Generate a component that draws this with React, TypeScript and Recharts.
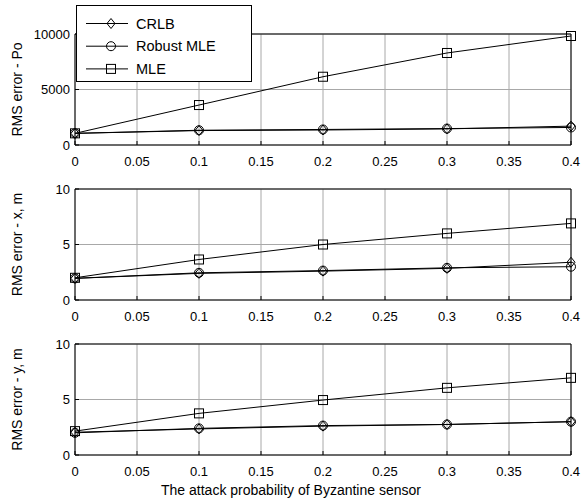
import React from 'react';
import { LineChart, Line, XAxis, YAxis, CartesianGrid, Legend, Label } from 'recharts';

const attackProb = [0, 0.1, 0.2, 0.3, 0.4];
const xTicks = [0, 0.05, 0.1, 0.15, 0.2, 0.25, 0.3, 0.35, 0.4];

const crlbPo = [1050, 1300, 1350, 1450, 1700];
const robustPo = [1050, 1330, 1400, 1480, 1580];
const mlePo = [1050, 3600, 6150, 8290, 9820];

const crlbX = [1.95, 2.4, 2.6, 2.85, 3.4];
const robustX = [1.95, 2.45, 2.65, 2.9, 3.0];
const mleX = [2.0, 3.65, 5.0, 6.0, 6.9];

const crlbY = [2.05, 2.35, 2.6, 2.75, 3.0];
const robustY = [2.0, 2.4, 2.65, 2.75, 3.0];
const mleY = [2.15, 3.75, 4.95, 6.05, 6.95];

const poTicks = [0, 5000, 10000];
const posTicks = [0, 5, 10];

const seriesNames = ['CRLB', 'Robust MLE', 'MLE'];

const panels = [
  { label: 'RMS error - Po', ticks: poTicks, crlb: crlbPo, robust: robustPo, mle: mlePo },
  { label: 'RMS error - x, m', ticks: posTicks, crlb: crlbX, robust: robustX, mle: mleX },
  { label: 'RMS error - y, m', ticks: posTicks, crlb: crlbY, robust: robustY, mle: mleY },
];

const FONT = '"Liberation Sans", Arial, Helvetica, sans-serif';

function Marker({ kind, cx, cy }: { kind: string; cx: number; cy: number }) {
  if (kind === 'CRLB') {
    return (
      <path
        d={`M${cx},${cy - 5} L${cx + 4},${cy} L${cx},${cy + 5} L${cx - 4},${cy} Z`}
        fill="none"
        stroke="#000"
        strokeWidth={1}
      />
    );
  }
  if (kind === 'Robust MLE') {
    return <circle cx={cx} cy={cy} r={4.5} fill="none" stroke="#000" strokeWidth={1} />;
  }
  return <rect x={cx - 4.5} y={cy - 4.5} width={9} height={9} fill="none" stroke="#000" strokeWidth={1} />;
}

const dotFor = (kind: string) => (props: any) => {
  const { cx, cy, index } = props;
  return (
    <g key={`${kind}-${index}`}>
      <Marker kind={kind} cx={cx} cy={cy} />
    </g>
  );
};

function LegendBox() {
  return (
    <svg width={176} height={77} style={{ display: 'block' }}>
      <rect x={0.5} y={0.5} width={175} height={76} fill="#fff" stroke="#000" strokeWidth={1} />
      {seriesNames.map((name, i) => {
        const y = 18.5 + i * 22.7;
        return (
          <g key={name}>
            <line x1={10} x2={52} y1={y} y2={y} stroke="#000" strokeWidth={1} />
            <Marker kind={name} cx={35} cy={y} />
            <text x={60} y={y + 5} fontSize={14.5} fill="#000" fontFamily={FONT}>
              {name}
            </text>
          </g>
        );
      })}
    </svg>
  );
}

export default function App() {
  return (
    <div
      style={{
        position: 'absolute',
        left: 0,
        top: 0,
        width: 582,
        height: 503,
        background: '#fff',
        fontFamily: FONT,
      }}
    >
      {panels.map((panel, pi) => {
        const data = attackProb.map((x, i) => ({
          x,
          crlb: panel.crlb[i],
          robust: panel.robust[i],
          mle: panel.mle[i],
        }));
        const yMax = panel.ticks[panel.ticks.length - 1];
        const isLast = pi === panels.length - 1;
        return (
          <div key={panel.label} style={{ position: 'absolute', left: 0, top: pi * 155 }}>
            <LineChart width={582} height={190} data={data} margin={{ top: 33, right: 10, bottom: 0, left: 0 }}>
              <CartesianGrid stroke="#a8a8a8" strokeWidth={1} />
              <XAxis
                dataKey="x"
                type="number"
                domain={[0, 0.4]}
                ticks={xTicks}
                height={45}
                stroke="#000"
                tickSize={-4}
                tickMargin={16}
                tick={{ fill: '#000', fontSize: 13 }}
              >
                {isLast && (
                  <Label
                    content={(p: any) => {
                      const vb = p.viewBox || { x: 75, width: 496 };
                      return (
                        <text
                          x={vb.x + vb.width / 2 - 32}
                          y={185}
                          textAnchor="middle"
                          fontSize={14}
                          fill="#000"
                          fontFamily={FONT}
                        >
                          The attack probability of Byzantine sensor
                        </text>
                      );
                    }}
                  />
                )}
              </XAxis>
              <XAxis
                xAxisId="top"
                orientation="top"
                dataKey="x"
                type="number"
                domain={[0, 0.4]}
                ticks={xTicks}
                height={1}
                stroke="#000"
                tickSize={-4}
                tick={false}
              />
              <YAxis
                type="number"
                domain={[0, yMax]}
                ticks={panel.ticks}
                width={75}
                stroke="#000"
                tickSize={-4}
                tickMargin={9}
                tick={{ fill: '#000', fontSize: 13 }}
              >
                <Label
                  content={(p: any) => {
                    const vb = p.viewBox || { y: 34, height: 111 };
                    const cy = vb.y + vb.height / 2;
                    return (
                      <text
                        x={0}
                        y={0}
                        transform={`translate(22, ${cy}) rotate(-90)`}
                        textAnchor="middle"
                        fontSize={14}
                        fill="#000"
                        fontFamily={FONT}
                      >
                        {panel.label}
                      </text>
                    );
                  }}
                />
              </YAxis>
              <YAxis
                yAxisId="right"
                orientation="right"
                type="number"
                domain={[0, yMax]}
                ticks={panel.ticks}
                width={1}
                stroke="#000"
                tickSize={-4}
                tick={false}
              />
              <Line
                dataKey="crlb"
                name={seriesNames[0]}
                stroke="#000"
                strokeWidth={1}
                dot={dotFor('CRLB')}
                activeDot={false}
                isAnimationActive={false}
              />
              <Line
                dataKey="robust"
                name={seriesNames[1]}
                stroke="#000"
                strokeWidth={1}
                dot={dotFor('Robust MLE')}
                activeDot={false}
                isAnimationActive={false}
              />
              <Line
                dataKey="mle"
                name={seriesNames[2]}
                stroke="#000"
                strokeWidth={1}
                dot={dotFor('MLE')}
                activeDot={false}
                isAnimationActive={false}
              />
              {pi === 0 && (
                <Legend
                  layout="vertical"
                  align="center"
                  verticalAlign="middle"
                  content={() => <LegendBox />}
                  wrapperStyle={{ left: 76, top: 5, width: 176, height: 77 }}
                />
              )}
            </LineChart>
          </div>
        );
      })}
    </div>
  );
}
